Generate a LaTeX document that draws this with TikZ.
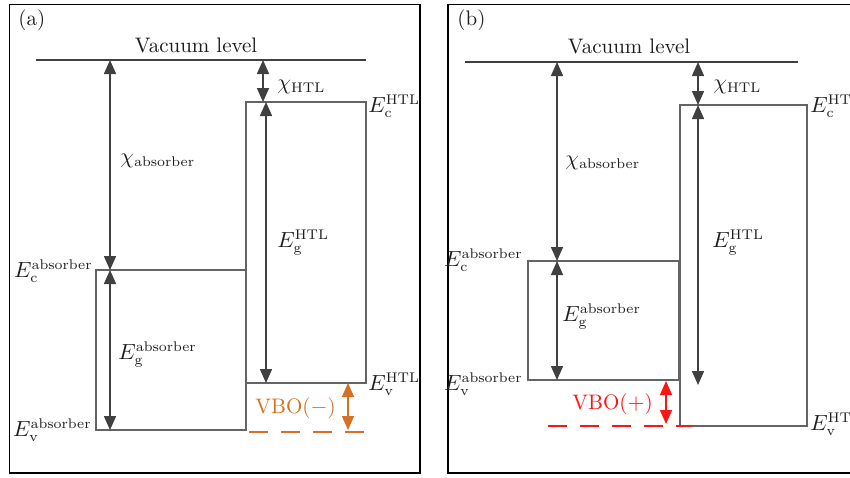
\documentclass[tikz,border=0pt]{standalone}
\usetikzlibrary{arrows.meta}
\DeclareMathSizes{10.5}{10.5}{6.9}{5}
\definecolor{arrgray}{RGB}{64,64,64}
\definecolor{boxgray}{RGB}{100,100,100}
\definecolor{vboorange}{RGB}{214,112,36}
\definecolor{vbored}{RGB}{255,20,20}
\definecolor{txtgray}{RGB}{30,30,30}
\tikzset{
  arr/.style={draw=arrgray, line width=0.75pt, {Triangle[length=7pt,width=6pt]}-{Triangle[length=7pt,width=6pt]}, color=arrgray},
  lvl/.style={draw=boxgray, line width=0.65pt},
  vac/.style={draw=arrgray, line width=0.6pt},
  frm/.style={draw=black, line width=0.6pt},
  lab/.style={inner sep=0pt, text=txtgray},
  vbodash/.style={line width=0.8pt, dash pattern=on 9.5pt off 6.5pt},
}
\begin{document}
\begin{tikzpicture}[x=0.5pt,y=-0.5pt,font=\fontsize{10.5}{12.5}\selectfont]
\useasboundingbox (0,0) rectangle (850,477);
\clip (0,0) rectangle (850,477);
% frames
\draw[frm] (9.5,4.5) rectangle (420,473);
\draw[frm] (448,4.5) rectangle (870,473);

% ================= panel (a) =================
\node[lab, anchor=base west] (alabel) at (18,25) {(a)};
\coordinate (aVL) at (36,60);
\coordinate (aVR) at (366,60);
\draw[vac] (aVL) -- (aVR);
\node[lab, anchor=base] (avac) at (196,52) {Vacuum level};
% boxes
\draw[lvl] (96,270) rectangle (246,430);
\draw[lvl] (246,102) rectangle (366,383);
% arrow endpoints
\coordinate (aChiAT) at (110,60);
\coordinate (aEcA) at (110,270);
\coordinate (aEvA) at (110,430);
\coordinate (aChiHT) at (263,60);
\coordinate (aChiHB) at (263,102);
\coordinate (aEgHT) at (266,102);
\coordinate (aEgHB) at (266,383);
\coordinate (aVboT) at (348,383);
\coordinate (aVboB) at (348,430);
\coordinate (aDashL) at (249,432);
\coordinate (aDashR) at (366,432);
\draw[arr] (aChiAT) -- (aEcA);
\draw[arr] (aEcA) -- (aEvA);
\draw[arr] (aChiHT) -- (aChiHB);
\draw[arr] (aEgHT) -- (aEgHB);
\draw[arr, draw=vboorange, color=vboorange] (aVboT) -- (aVboB);
\draw[vbodash, draw=vboorange] (aDashL) -- (aDashR);
% labels
\node[lab, anchor=base west] (achiabs) at (120,163) {$\chi_{\mathrm{absorber}}$};
\node[lab, anchor=base west] (achihtl) at (277,89) {$\chi_{\mathrm{HTL}}$};
\node[lab, anchor=base west] (aEcH) at (368,112) {$E_{\mathrm{c}}^{\mathrm{HTL}}$};
\node[lab, anchor=base west] (aEgH) at (277,247) {$E_{\mathrm{g}}^{\mathrm{HTL}}$};
\node[lab, anchor=base west] (aEvH) at (368,390) {$E_{\mathrm{v}}^{\mathrm{HTL}}$};
\node[lab, anchor=base east] (aEcAl) at (93,277) {$E_{\mathrm{c}}^{\mathrm{absorber}}$};
\node[lab, anchor=base west] (aEgAl) at (118,359) {$E_{\mathrm{g}}^{\mathrm{absorber}}$};
\node[lab, anchor=base east] (aEvAl) at (92,436) {$E_{\mathrm{v}}^{\mathrm{absorber}}$};
\node[lab, anchor=base west, text=vboorange] (avbo) at (255,413) {VBO($-$)};

% ================= panel (b) =================
\node[lab, anchor=base west] (blabel) at (457,25) {(b)};
\coordinate (bVL) at (465,62);
\coordinate (bVR) at (798,62);
\draw[vac] (bVL) -- (bVR);
\node[lab, anchor=base] (bvac) at (629,53) {Vacuum level};
% boxes
\draw[lvl] (528,261) rectangle (679,380);
\draw[lvl] (680,105) rectangle (807,426);
% arrow endpoints
\coordinate (bChiAT) at (557,62);
\coordinate (bEcA) at (557,261);
\coordinate (bEvA) at (557,380);
\coordinate (bChiHT) at (698,62);
\coordinate (bChiHB) at (698,105);
\coordinate (bEgHT) at (698,105);
\coordinate (bEgHB) at (698,385);
\coordinate (bVboT) at (666,381);
\coordinate (bVboB) at (666,424);
\coordinate (bDashL) at (548,426);
\coordinate (bDashR) at (691,426);
\draw[arr] (bChiAT) -- (bEcA);
\draw[arr] (bEcA) -- (bEvA);
\draw[arr] (bChiHT) -- (bChiHB);
\draw[arr] (bEgHT) -- (bEgHB);
\draw[arr, draw=vbored, color=vbored] (bVboT) -- (bVboB);
\draw[vbodash, draw=vbored] (bDashL) -- (bDashR);
% labels
\node[lab, anchor=base west] (bchiabs) at (565,165) {$\chi_{\mathrm{absorber}}$};
\node[lab, anchor=base west] (bchihtl) at (713,89) {$\chi_{\mathrm{HTL}}$};
\node[lab, anchor=base west] (bEcH) at (810,112) {$E_{\mathrm{c}}^{\mathrm{HTL}}$};
\node[lab, anchor=base west] (bEgH) at (712,247) {$E_{\mathrm{g}}^{\mathrm{HTL}}$};
\node[lab, anchor=base west] (bEvH) at (810,430) {$E_{\mathrm{v}}^{\mathrm{HTL}}$};
\node[lab, anchor=base east] (bEcAl) at (523,266) {$E_{\mathrm{c}}^{\mathrm{absorber}}$};
\node[lab, anchor=base west] (bEgAl) at (562,321) {$E_{\mathrm{g}}^{\mathrm{absorber}}$};
\node[lab, anchor=base east] (bEvAl) at (523,390) {$E_{\mathrm{v}}^{\mathrm{absorber}}$};
\node[lab, anchor=base west, text=vbored] (bvbo) at (572,409) {VBO($+$)};
\end{tikzpicture}
\end{document}
